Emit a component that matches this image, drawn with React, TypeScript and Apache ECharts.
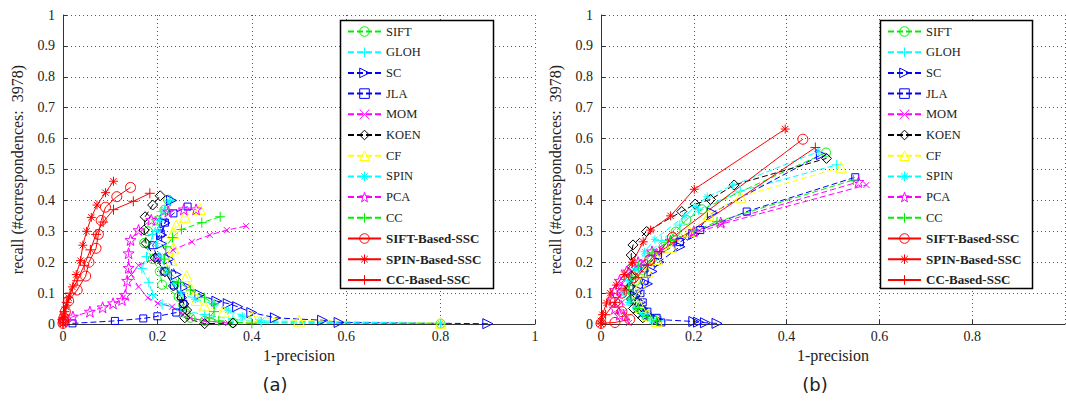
import React, { useEffect, useRef } from "react";
import * as echarts from "echarts";

const NAMES = ["SIFT", "GLOH", "SC", "JLA", "MOM", "KOEN", "CF", "SPIN", "PCA", "CC", "SIFT-Based-SSC", "SPIN-Based-SSC", "CC-Based-SSC"];
const X_TICKS = [0, 0.2, 0.4, 0.6, 0.8, 1];
const Y_TICKS = [0, 0.1, 0.2, 0.3, 0.4, 0.5, 0.6, 0.7, 0.8, 0.9, 1];
const PANEL_LABELS = ["(a)", "(b)"];
const X_NAME = "1-precision";
const Y_NAME = "recall (#correspondences:  3978)";

// ---- panel (a) ----
const SIFT_A = [[0.8, 0.001], [0.36, 0.004], [0.3, 0.01], [0.27, 0.02], [0.26, 0.035], [0.255, 0.06], [0.245, 0.088], [0.21, 0.127], [0.205, 0.17], [0.19, 0.21], [0.172, 0.262], [0.18, 0.3], [0.2, 0.335], [0.215, 0.37], [0.223, 0.402]];
const GLOH_A = [[0.8, 0.002], [0.42, 0.006], [0.36, 0.015], [0.3, 0.03], [0.25, 0.045], [0.21, 0.065], [0.19, 0.095], [0.182, 0.135], [0.167, 0.18], [0.177, 0.218], [0.19, 0.29], [0.209, 0.364], [0.227, 0.4]];
const SC_A = [[0.9, 0.001], [0.585, 0.005], [0.55, 0.012], [0.45, 0.02], [0.4, 0.037], [0.37, 0.056], [0.35, 0.066], [0.326, 0.074], [0.29, 0.095], [0.26, 0.122], [0.24, 0.16], [0.225, 0.21], [0.209, 0.26], [0.209, 0.288], [0.216, 0.327], [0.23, 0.4]];
const JLA_A = [[0.02, 0.002], [0.11, 0.01], [0.17, 0.018], [0.2, 0.025], [0.24, 0.037], [0.255, 0.065], [0.25, 0.09], [0.235, 0.125], [0.215, 0.17], [0.2, 0.215], [0.19, 0.255], [0.207, 0.293], [0.216, 0.328], [0.234, 0.358], [0.264, 0.38]];
const MOM_A = [[0.35, 0.003], [0.3, 0.01], [0.27, 0.02], [0.25, 0.035], [0.231, 0.056], [0.201, 0.067], [0.18, 0.085], [0.16, 0.12], [0.145, 0.16], [0.16, 0.19], [0.2, 0.215], [0.233, 0.24], [0.273, 0.266], [0.311, 0.288], [0.347, 0.304], [0.388, 0.317]];
const KOEN_A = [[0.36, 0.003], [0.3, 0.001], [0.258, 0.02], [0.262, 0.045], [0.256, 0.065], [0.251, 0.085], [0.234, 0.123], [0.216, 0.169], [0.195, 0.214], [0.176, 0.261], [0.172, 0.304], [0.174, 0.347], [0.19, 0.385], [0.206, 0.415]];
const CF_A = [[0.8, 0.004], [0.5, 0.011], [0.4, 0.024], [0.34, 0.04], [0.3, 0.06], [0.283, 0.078], [0.27, 0.115], [0.262, 0.155], [0.23, 0.207], [0.234, 0.245], [0.233, 0.294], [0.24, 0.318], [0.258, 0.347], [0.29, 0.372]];
const SPIN_A = [[0.8, 0.002], [0.42, 0.01], [0.38, 0.025], [0.35, 0.045], [0.32, 0.065], [0.28, 0.08], [0.25, 0.1], [0.235, 0.13], [0.22, 0.17], [0.205, 0.22], [0.198, 0.26], [0.2, 0.3], [0.205, 0.335], [0.215, 0.37], [0.225, 0.398]];
const PCA_A = [[0.0, 0.01], [0.021, 0.024], [0.057, 0.04], [0.084, 0.054], [0.106, 0.067], [0.125, 0.078], [0.132, 0.094], [0.136, 0.14], [0.139, 0.182], [0.139, 0.229], [0.143, 0.272], [0.16, 0.304], [0.187, 0.337], [0.223, 0.364], [0.256, 0.371], [0.282, 0.371]];
const CC_A = [[0.4, 0.002], [0.33, 0.01], [0.31, 0.02], [0.32, 0.04], [0.32, 0.065], [0.3, 0.085], [0.27, 0.11], [0.245, 0.135], [0.225, 0.17], [0.215, 0.21], [0.218, 0.25], [0.232, 0.28], [0.251, 0.306], [0.294, 0.328], [0.333, 0.347]];
const SIFTSSC_A = [[0, 0.002], [0.001, 0.01], [0.002, 0.02], [0.005, 0.04], [0.012, 0.075], [0.03, 0.11], [0.048, 0.155], [0.055, 0.2], [0.07, 0.245], [0.075, 0.29], [0.081, 0.335], [0.09, 0.378], [0.114, 0.412], [0.143, 0.442]];
const SPINSSC_A = [[0, 0.0], [0, 0.01], [0.001, 0.02], [0.002, 0.03], [0.006, 0.055], [0.012, 0.085], [0.02, 0.12], [0.028, 0.16], [0.037, 0.205], [0.042, 0.255], [0.05, 0.3], [0.06, 0.345], [0.072, 0.385], [0.09, 0.425], [0.107, 0.462]];
const CCSSC_A = [[0, 0.004], [0.001, 0.02], [0.003, 0.04], [0.008, 0.07], [0.015, 0.1], [0.03, 0.14], [0.045, 0.19], [0.058, 0.24], [0.07, 0.29], [0.085, 0.33], [0.107, 0.37], [0.149, 0.397], [0.184, 0.423]];

// ---- panel (b) ----
const SIFT_B = [[0.12, 0.015], [0.1, 0.03], [0.085, 0.05], [0.07, 0.08], [0.065, 0.11], [0.075, 0.14], [0.09, 0.175], [0.11, 0.21], [0.135, 0.25], [0.161, 0.299], [0.184, 0.337], [0.218, 0.371], [0.485, 0.555]];
const GLOH_B = [[0.13, 0.01], [0.1, 0.03], [0.07, 0.06], [0.05, 0.1], [0.06, 0.14], [0.08, 0.18], [0.1, 0.22], [0.13, 0.27], [0.17, 0.32], [0.21, 0.37], [0.3, 0.43], [0.508, 0.515]];
const SC_B = [[0.25, 0.002], [0.225, 0.004], [0.21, 0.006], [0.2, 0.008], [0.12, 0.015], [0.1, 0.03], [0.09, 0.05], [0.085, 0.07], [0.075, 0.09], [0.08, 0.11], [0.1, 0.13], [0.11, 0.17], [0.125, 0.2], [0.17, 0.25], [0.2, 0.29], [0.24, 0.36], [0.475, 0.548]];
const JLA_B = [[0.13, 0.005], [0.12, 0.02], [0.1, 0.04], [0.09, 0.07], [0.085, 0.1], [0.094, 0.14], [0.094, 0.18], [0.123, 0.223], [0.17, 0.265], [0.214, 0.304], [0.314, 0.364], [0.548, 0.475]];
const MOM_B = [[0.06, 0.003], [0.055, 0.02], [0.05, 0.04], [0.045, 0.07], [0.04, 0.1], [0.045, 0.13], [0.06, 0.16], [0.09, 0.2], [0.13, 0.24], [0.18, 0.28], [0.261, 0.324], [0.572, 0.45]];
const KOEN_B = [[0.09, 0.02], [0.08, 0.035], [0.07, 0.05], [0.065, 0.08], [0.062, 0.12], [0.065, 0.155], [0.067, 0.186], [0.065, 0.223], [0.069, 0.256], [0.098, 0.299], [0.174, 0.364], [0.203, 0.388], [0.236, 0.403], [0.287, 0.45], [0.486, 0.536]];
const CF_B = [[0.12, 0.01], [0.1, 0.03], [0.085, 0.055], [0.08, 0.09], [0.085, 0.13], [0.1, 0.17], [0.12, 0.21], [0.15, 0.25], [0.19, 0.3], [0.232, 0.353], [0.301, 0.412], [0.517, 0.507]];
const SPIN_B = [[0.11, 0.01], [0.09, 0.03], [0.075, 0.05], [0.06, 0.07], [0.05, 0.1], [0.06, 0.14], [0.075, 0.18], [0.094, 0.234], [0.116, 0.274], [0.181, 0.35], [0.203, 0.38], [0.229, 0.412], [0.283, 0.448], [0.468, 0.558]];
const PCA_B = [[0.04, 0.03], [0.03, 0.05], [0.025, 0.08], [0.03, 0.11], [0.04, 0.14], [0.055, 0.17], [0.08, 0.2], [0.11, 0.235], [0.15, 0.27], [0.2, 0.3], [0.258, 0.328], [0.555, 0.46]];
const CC_B = [[0.12, 0.01], [0.1, 0.025], [0.08, 0.05], [0.065, 0.08], [0.06, 0.11], [0.065, 0.15], [0.08, 0.19], [0.11, 0.23], [0.15, 0.27], [0.2, 0.3], [0.25, 0.331], [0.544, 0.466]];
const SIFTSSC_B = [[0, 0.002], [0.03, 0.005], [0.062, 0.015], [0.045, 0.04], [0.03, 0.07], [0.045, 0.1], [0.07, 0.15], [0.105, 0.207], [0.154, 0.28], [0.435, 0.598]];
const SPINSSC_B = [[0, 0.0], [0, 0.01], [0.003, 0.03], [0.012, 0.068], [0.02, 0.1], [0.033, 0.126], [0.05, 0.16], [0.068, 0.2], [0.091, 0.266], [0.107, 0.304], [0.15, 0.35], [0.201, 0.436], [0.397, 0.631]];
const CCSSC_B = [[0, 0.003], [0.01, 0.03], [0.03, 0.07], [0.05, 0.11], [0.075, 0.15], [0.1, 0.19], [0.127, 0.234], [0.462, 0.571]];

const DATA_A = [SIFT_A, GLOH_A, SC_A, JLA_A, MOM_A, KOEN_A, CF_A, SPIN_A, PCA_A, CC_A, SIFTSSC_A, SPINSSC_A, CCSSC_A];
const DATA_B = [SIFT_B, GLOH_B, SC_B, JLA_B, MOM_B, KOEN_B, CF_B, SPIN_B, PCA_B, CC_B, SIFTSSC_B, SPINSSC_B, CCSSC_B];

const PLUS = "path://M5,0L5,10M0,5L10,5";
const CROSS = "path://M0,0L10,10M0,10L10,0";
const ASTER = "path://M5,0L5,10M0,5L10,5M1.5,1.5L8.5,8.5M1.5,8.5L8.5,1.5";
const STAR = "path://M5,0L6.18,3.38L9.76,3.45L6.9,5.62L7.94,9.05L5,7L2.06,9.05L3.1,5.62L0.24,3.45L3.82,3.38Z";

const STYLES: any[] = [
  { c: "#00ee00", s: "circle", sz: 9, d: true },
  { c: "#00ffff", s: PLUS, sz: 10, d: true },
  { c: "#0000ff", s: "triangle", sz: 10, d: true, r: -90 },
  { c: "#0000ff", s: "rect", sz: 7, d: true },
  { c: "#ff00ff", s: CROSS, sz: 6, d: true },
  { c: "#000000", s: "diamond", sz: 10, d: true },
  { c: "#ffff00", s: "triangle", sz: 11, d: true },
  { c: "#00ffff", s: ASTER, sz: 8, d: true },
  { c: "#ff00ff", s: STAR, sz: 11, d: true },
  { c: "#00ee00", s: PLUS, sz: 10, d: true },
  { c: "#ff0000", s: "circle", sz: 10, d: false },
  { c: "#ff0000", s: ASTER, sz: 9, d: false },
  { c: "#ff0000", s: PLUS, sz: 10, d: false },
];

const SERIF = "'Liberation Serif', 'DejaVu Serif', serif";

export default function App() {
  const ref = useRef<HTMLDivElement>(null);
  useEffect(() => {
    if (!ref.current) return;
    const chart = echarts.init(ref.current, null, { renderer: "svg" });
    const grids = [
      { left: 63, right: 531, top: 15, bottom: 79 },
      { left: 601, right: 1, top: 15, bottom: 79 },
    ];
    const axisCommon = {
      type: "value",
      min: 0,
      max: 1,
      axisLine: { show: true, onZero: false, lineStyle: { color: "#333", width: 1 } },
      axisTick: { show: true, inside: true, length: 4, lineStyle: { color: "#333" } },
      splitLine: { show: true, lineStyle: { color: "#555", type: [1, 3], width: 1 } },
      nameLocation: "middle",
      nameTextStyle: { fontFamily: SERIF, fontSize: 16, color: "#222" },
    };
    const xAxis = [0, 1].map((i) => ({
      ...axisCommon,
      gridIndex: i,
      interval: X_TICKS[1] - X_TICKS[0],
      name: X_NAME,
      nameGap: 19,
      axisLabel: { fontFamily: SERIF, fontSize: 14, color: "#222", margin: 5, showMaxLabel: i === 0 },
    }));
    const yAxis = [0, 1].map((i) => ({
      ...axisCommon,
      gridIndex: i,
      interval: Y_TICKS[1] - Y_TICKS[0],
      name: Y_NAME,
      nameGap: 38,
      axisLabel: { fontFamily: SERIF, fontSize: 14, color: "#222", margin: 8 },
    }));
    const series: any[] = [];
    [DATA_A, DATA_B].forEach((set, g) => {
      set.forEach((data, k) => {
        const st = STYLES[k];
        series.push({
          type: "line",
          name: NAMES[k],
          xAxisIndex: g,
          yAxisIndex: g,
          data,
          symbol: st.s,
          symbolSize: st.sz,
          symbolRotate: st.r || 0,
          showSymbol: true,
          lineStyle: { color: st.c, width: 1, type: st.d ? [6, 3] : "solid" },
          itemStyle: { color: "transparent", borderColor: st.c, borderWidth: 1 },
          emphasis: { disabled: true },
          z: 2,
        });
      });
    });
    const legendData = NAMES.map((n, k) => ({
      name: n,
      textStyle: { fontWeight: k >= 10 ? "bold" : "normal", fontSize: k >= 10 ? 13 : 12.5 },
    }));
    const legends = [347, 887].map((x) => ({
      orient: "vertical",
      left: x,
      top: 25,
      padding: 0,
      itemWidth: 33,
      itemHeight: 12,
      itemGap: 7.7,
      selectedMode: false,
      z: 10,
      textStyle: { fontFamily: SERIF, fontSize: 12.5, color: "#222" },
      itemStyle: { borderWidth: 1 },
      data: legendData,
    }));
    chart.setOption({
      animation: false,
      grid: grids,
      xAxis,
      yAxis,
      legend: legends,
      series,
      graphic: [
        { type: "rect", z: 5, shape: { x: 340.5, y: 20.5, width: 153, height: 268 }, style: { fill: "#fff", stroke: "#000", lineWidth: 1.5 } },
        { type: "rect", z: 5, shape: { x: 880.5, y: 20.5, width: 152, height: 268 }, style: { fill: "#fff", stroke: "#000", lineWidth: 1.5 } },
        { type: "text", x: 275, y: 384, style: { text: PANEL_LABELS[0], fontFamily: "'DejaVu Sans', sans-serif", fontSize: 18, fill: "#222", align: "center", verticalAlign: "middle" } },
        { type: "text", x: 815, y: 384, style: { text: PANEL_LABELS[1], fontFamily: "'DejaVu Sans', sans-serif", fontSize: 18, fill: "#222", align: "center", verticalAlign: "middle" } },
      ],
    });
    return () => chart.dispose();
  }, []);
  return <div ref={ref} style={{ position: "absolute", left: 0, top: 0, width: 1066, height: 403, background: "#fff" }} />;
}
